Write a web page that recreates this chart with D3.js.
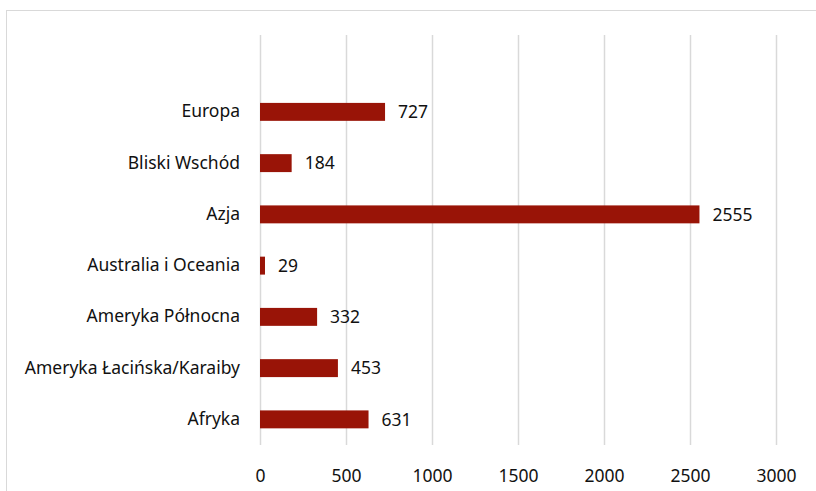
<!DOCTYPE html>
<html>
<head>
<meta charset="utf-8">
<script src="https://cdn.jsdelivr.net/npm/d3@7"></script>
<style>
  html, body { margin: 0; padding: 0; background: #fff; }
  svg { display: block; }
  text { font-family: "Noto Sans", "Open Sans", sans-serif; fill: #111; }
</style>
</head>
<body>
<svg id="chart" width="816" height="491"></svg>
<script>
// Regions, listed top to bottom
const regions = ["Europa", "Bliski Wschód", "Azja", "Australia i Oceania",
                 "Ameryka Północna", "Ameryka Łacińska/Karaiby", "Afryka"];
const values = [727, 184, 2555, 29, 332, 453, 631];
const xTicks = [0, 500, 1000, 1500, 2000, 2500, 3000];

const data = regions.map((r, i) => ({ region: r, value: values[i] }));

const svg = d3.select("#chart");
const plot = { left: 260, right: 776, top: 35, bottom: 445 };
const barColor = "#991407";
const gridColor = "#d9d9d9";
const fontSize = 17.5;
const fontFamily = '"Noto Sans", "Open Sans", sans-serif';
const textColor = "#111";

// Outer frame
svg.append("rect")
  .attr("x", 6.5).attr("y", 10.5)
  .attr("width", 1000).attr("height", 1000)
  .attr("fill", "none").attr("stroke", gridColor).attr("stroke-width", 1);

const x = d3.scaleLinear().domain([0, 3000]).range([plot.left, plot.right]);

// One empty slot is kept above the first region
const slot = (plot.bottom - plot.top) / (regions.length + 1);
const y = d3.scaleBand()
  .domain(regions)
  .range([plot.top + slot, plot.bottom])
  .paddingInner(0.65).paddingOuter(0.325);

// Vertical gridlines
svg.append("g")
  .selectAll("line")
  .data(xTicks)
  .join("line")
  .attr("x1", d => Math.round(x(d)) + 0.5)
  .attr("x2", d => Math.round(x(d)) + 0.5)
  .attr("y1", plot.top).attr("y2", plot.bottom)
  .attr("stroke", gridColor).attr("stroke-width", 1.5);

// X axis tick labels
const xAxis = d3.axisBottom(x).tickValues(xTicks).tickSize(0).tickPadding(0).tickFormat(d3.format("d"));
const gx = svg.append("g")
  .attr("transform", `translate(0, ${plot.bottom + 31})`)
  .call(xAxis);
gx.select(".domain").remove();
gx.selectAll("text")
  .attr("font-size", fontSize)
  .attr("dy", "0.35em")
  .style("font-family", fontFamily)
  .attr("fill", textColor);

// Category labels
const yAxis = d3.axisLeft(y).tickSize(0).tickPadding(20);
const gy = svg.append("g")
  .attr("transform", `translate(${plot.left}, 0)`)
  .call(yAxis);
gy.select(".domain").remove();
gy.selectAll("text")
  .attr("font-size", fontSize)
  .style("font-family", fontFamily)
  .attr("fill", textColor);

// Bars
svg.append("g")
  .selectAll("rect")
  .data(data)
  .join("rect")
  .attr("x", x(0))
  .attr("y", d => y(d.region))
  .attr("width", d => x(d.value) - x(0))
  .attr("height", y.bandwidth())
  .attr("fill", barColor);

// Value labels
svg.append("g")
  .selectAll("text")
  .data(data)
  .join("text")
  .attr("x", d => x(d.value) + 13)
  .attr("y", d => y(d.region) + y.bandwidth() / 2)
  .attr("dy", "0.35em")
  .attr("font-size", fontSize)
  .text(d => d.value);
</script>
</body>
</html>
